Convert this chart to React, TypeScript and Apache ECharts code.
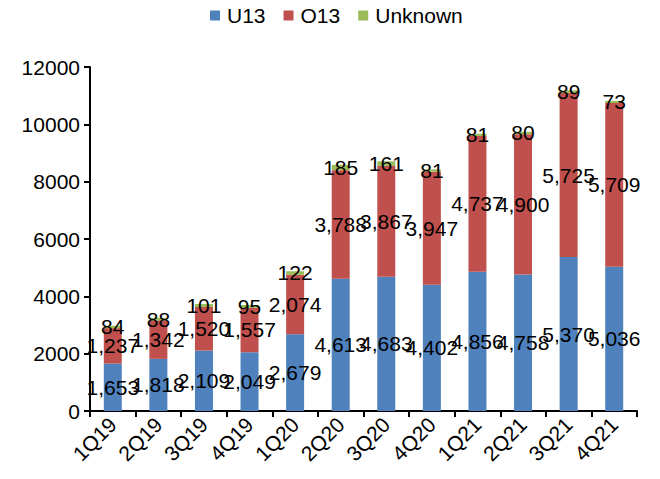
import React, { useEffect, useRef } from "react";
import * as echarts from "echarts";

const categories = ["1Q19", "2Q19", "3Q19", "4Q19", "1Q20", "2Q20", "3Q20", "4Q20", "1Q21", "2Q21", "3Q21", "4Q21"];
const u13 = [1653, 1818, 2109, 2049, 2679, 4613, 4683, 4402, 4856, 4758, 5370, 5036];
const o13 = [1237, 1342, 1520, 1557, 2074, 3788, 3867, 3947, 4737, 4900, 5725, 5709];
const unknown = [84, 88, 101, 95, 122, 185, 161, 81, 81, 80, 89, 73];

const FONT = "'Liberation Sans', Arial, sans-serif";

export default function App() {
  const ref = useRef<HTMLDivElement>(null);
  useEffect(() => {
    if (!ref.current) return;
    const chart = echarts.init(ref.current, null, { renderer: "svg" });
    const label = {
      show: true,
      position: "inside",
      color: "#000",
      fontSize: 21,
      fontFamily: FONT,
      formatter: (p: any) => Number(p.value).toLocaleString("en-US"),
    };
    const mk = (name: string, data: number[], color: string) => ({
      name,
      type: "bar",
      stack: "total",
      data,
      barWidth: 18,
      itemStyle: { color },
      label,
      emphasis: { disabled: true },
    });
    chart.setOption({
      animation: false,
      textStyle: { fontFamily: FONT },
      legend: {
        top: 0,
        left: 205,
        itemWidth: 10,
        itemHeight: 10,
        itemGap: 18,
        icon: "rect",
        textStyle: { fontSize: 21, color: "#000", fontFamily: FONT, padding: [0, 0, 0, 2] },
        data: ["U13", "O13", "Unknown"],
      },
      grid: { left: 90, right: 23, top: 67, bottom: 68, containLabel: false },
      xAxis: {
        type: "category",
        data: categories,
        axisLine: { lineStyle: { color: "#000", width: 2 } },
        axisTick: { show: true, length: 6, alignWithLabel: false, lineStyle: { color: "#000", width: 2 } },
        axisLabel: { rotate: 45, fontSize: 21, color: "#000", fontFamily: FONT, margin: 10, interval: 0 },
      },
      yAxis: {
        type: "value",
        min: 0,
        max: 12000,
        interval: 2000,
        splitLine: { show: false },
        axisLine: { show: true, lineStyle: { color: "#000", width: 2 } },
        axisTick: { show: true, length: 6, lineStyle: { color: "#000", width: 2 } },
        axisLabel: { fontSize: 21, color: "#000", fontFamily: FONT, margin: 10, formatter: (v: number) => String(v) },
      },
      series: [
        mk("U13", u13, "#4F81BD"),
        mk("O13", o13, "#C0504D"),
        mk("Unknown", unknown, "#9BBB59"),
      ],
    });
    return () => chart.dispose();
  }, []);
  return (
    <div
      ref={ref}
      style={{ position: "absolute", left: 0, top: 0, width: 660, height: 479, background: "#fff" }}
    />
  );
}
